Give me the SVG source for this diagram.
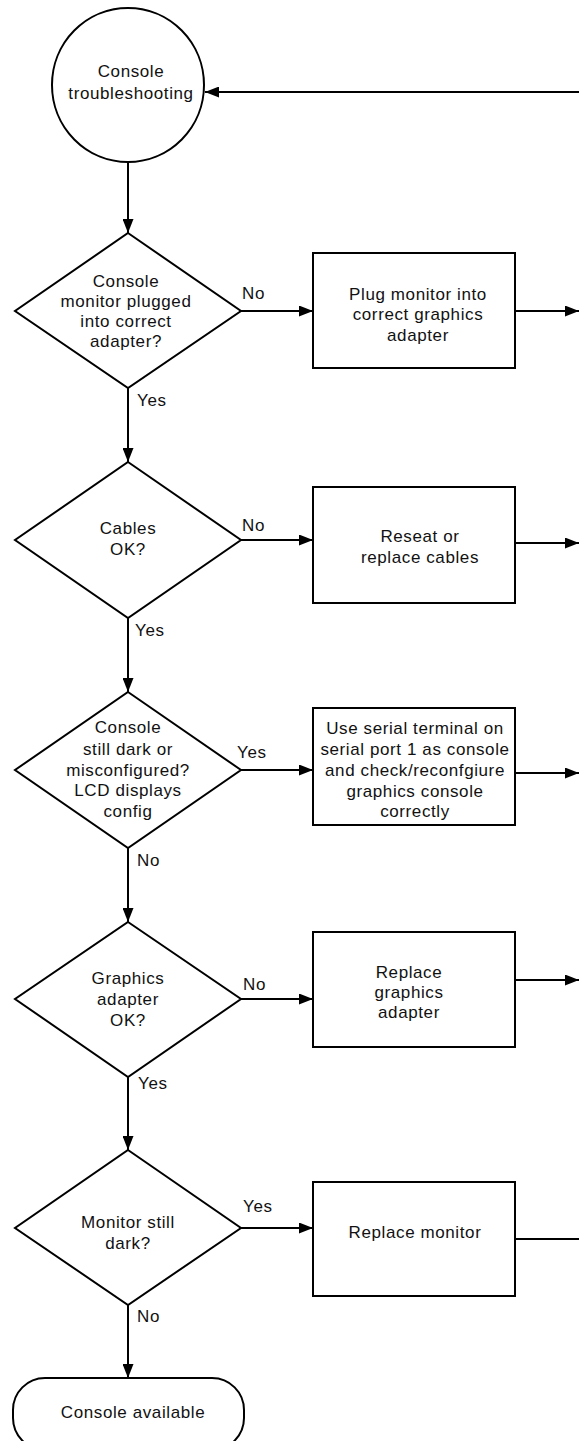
<svg xmlns="http://www.w3.org/2000/svg" width="579" height="1441" viewBox="0 0 579 1441">
<style>
.shape{fill:#fff;stroke:#000;stroke-width:2}
.t{font-family:"Liberation Sans",Arial,sans-serif;font-size:17px;letter-spacing:0.6px;fill:#111;text-anchor:middle}
.lbl{font-family:"Liberation Sans",Arial,sans-serif;font-size:17px;letter-spacing:0.6px;fill:#111}
.c{fill:none;stroke:#000;stroke-width:2}
</style>
<defs>
<marker id="ah" viewBox="0 0 14 11" refX="14" refY="5.5" markerWidth="14" markerHeight="11" markerUnits="userSpaceOnUse" orient="auto">
<path d="M0,0 L14,5.5 L0,11 z" fill="#000"/>
</marker>
</defs>
<rect width="579" height="1441" fill="#fff"/>
<g id="connectors">
<path class="c" d="M579,92 L205,92" marker-end="url(#ah)"/>
<path class="c" d="M128,163 L128,233" marker-end="url(#ah)"/>
<path class="c" d="M241,311 L313,311" marker-end="url(#ah)"/>
<path class="c" d="M515,311 L579,311" marker-end="url(#ah)"/>
<path class="c" d="M128,388 L128,462" marker-end="url(#ah)"/>
<path class="c" d="M241,540 L313,540" marker-end="url(#ah)"/>
<path class="c" d="M515,543 L579,543" marker-end="url(#ah)"/>
<path class="c" d="M128,618 L128,692" marker-end="url(#ah)"/>
<path class="c" d="M241,770 L313,770" marker-end="url(#ah)"/>
<path class="c" d="M515,773 L579,773" marker-end="url(#ah)"/>
<path class="c" d="M128,848 L128,922" marker-end="url(#ah)"/>
<path class="c" d="M241,999 L313,999" marker-end="url(#ah)"/>
<path class="c" d="M515,980 L579,980" marker-end="url(#ah)"/>
<path class="c" d="M128,1077 L128,1150" marker-end="url(#ah)"/>
<path class="c" d="M241,1228 L313,1228" marker-end="url(#ah)"/>
<path class="c" d="M515,1239 L579,1239"/>
<path class="c" d="M128,1305 L128,1378" marker-end="url(#ah)"/>
<text class="lbl" x="242" y="299">No</text>
<text class="lbl" x="137" y="406">Yes</text>
<text class="lbl" x="242" y="531">No</text>
<text class="lbl" x="135" y="636">Yes</text>
<text class="lbl" x="237" y="758">Yes</text>
<text class="lbl" x="137" y="866">No</text>
<text class="lbl" x="243" y="990">No</text>
<text class="lbl" x="138" y="1089">Yes</text>
<text class="lbl" x="243" y="1212">Yes</text>
<text class="lbl" x="137" y="1322">No</text>
</g>
<g id="start">
<ellipse class="shape" cx="128" cy="85" rx="76" ry="77"/>
<text class="t" x="131" y="77">Console</text>
<text class="t" x="131" y="99">troubleshooting</text>
</g>
<g id="d1">
<polygon class="shape" points="128,233 241,311 128,388 15,311"/>
<text class="t" x="126" y="287">Console</text>
<text class="t" x="126" y="307">monitor plugged</text>
<text class="t" x="126" y="327">into correct</text>
<text class="t" x="126" y="347">adapter?</text>
</g>
<g id="b1">
<rect class="shape" x="313" y="253" width="202" height="115"/>
<text class="t" x="418" y="300">Plug monitor into</text>
<text class="t" x="418" y="320">correct graphics</text>
<text class="t" x="418" y="341">adapter</text>
</g>
<g id="d2">
<polygon class="shape" points="128,462 241,540 128,618 15,540"/>
<text class="t" x="128" y="534">Cables</text>
<text class="t" x="128" y="555">OK?</text>
</g>
<g id="b2">
<rect class="shape" x="313" y="487" width="202" height="116"/>
<text class="t" x="420" y="542">Reseat or</text>
<text class="t" x="420" y="563">replace cables</text>
</g>
<g id="d3">
<polygon class="shape" points="128,692 241,770 128,848 15,770"/>
<text class="t" x="128" y="733">Console</text>
<text class="t" x="128" y="755">still dark or</text>
<text class="t" x="128" y="776">misconfigured?</text>
<text class="t" x="128" y="796">LCD displays</text>
<text class="t" x="128" y="817">config</text>
</g>
<g id="b3">
<rect class="shape" x="313" y="708" width="202" height="117"/>
<text class="t" x="415" y="734">Use serial terminal on</text>
<text class="t" x="415" y="755">serial port 1 as console</text>
<text class="t" x="415" y="776">and check/reconfgiure</text>
<text class="t" x="415" y="797">graphics console</text>
<text class="t" x="415" y="817">correctly</text>
</g>
<g id="d4">
<polygon class="shape" points="128,922 241,999 128,1077 15,999"/>
<text class="t" x="128" y="984">Graphics</text>
<text class="t" x="128" y="1005">adapter</text>
<text class="t" x="128" y="1026">OK?</text>
</g>
<g id="b4">
<rect class="shape" x="313" y="932" width="202" height="115"/>
<text class="t" x="409" y="978">Replace</text>
<text class="t" x="409" y="998">graphics</text>
<text class="t" x="409" y="1018">adapter</text>
</g>
<g id="d5">
<polygon class="shape" points="128,1150 241,1228 128,1305 15,1228"/>
<text class="t" x="128" y="1228">Monitor still</text>
<text class="t" x="128" y="1249">dark?</text>
</g>
<g id="b5">
<rect class="shape" x="313" y="1182" width="202" height="114"/>
<text class="t" x="415" y="1238">Replace monitor</text>
</g>
<g id="end">
<rect class="shape" x="13" y="1378" width="231" height="72" rx="32" ry="32"/>
<text class="t" x="133" y="1418">Console available</text>
</g>
</svg>
